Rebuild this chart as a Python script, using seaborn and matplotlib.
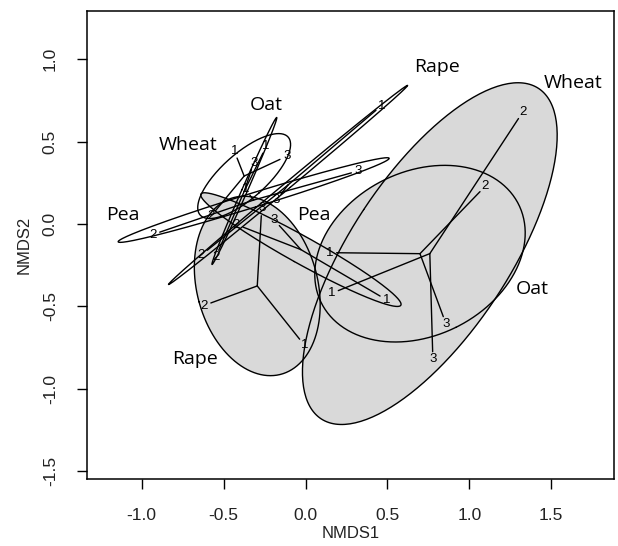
import numpy as np
import pandas as pd
import matplotlib
matplotlib.use("Agg")
import matplotlib.pyplot as plt
import seaborn as sns

# ---------------- data (NMDS site scores) ----------------
replicates = ["1", "2", "3"]
crops = ["Wheat", "Oat", "Pea", "Rape"]

# grey-filled group
wheat_grey_nmds1 = [0.20, 1.30, 0.776]
wheat_grey_nmds2 = [-0.405, 0.64, -0.776]
oat_grey_nmds1 = [0.19, 1.065, 0.841]
oat_grey_nmds2 = [-0.175, 0.196, -0.563]
pea_grey_nmds1 = [0.455, -0.38, -0.16]
pea_grey_nmds2 = [-0.438, -0.02, -0.01]
rape_grey_nmds1 = [-0.036, -0.578, -0.27]
rape_grey_nmds2 = [-0.70, -0.48, 0.05]

# open (unfilled) group
wheat_open_nmds1 = [-0.418, -0.55, -0.156]
wheat_open_nmds2 = [0.40, 0.08, 0.392]
oat_open_nmds1 = [-0.26, -0.53, -0.33]
oat_open_nmds2 = [0.43, -0.16, 0.33]
pea_open_nmds1 = [-0.34, -0.89, 0.28]
pea_open_nmds2 = [0.175, -0.05, 0.31]
rape_open_nmds1 = [0.43, -0.60, -0.15]
rape_open_nmds2 = [0.69, -0.16, 0.18]

# crop name annotations
crop_label_text = ["Rape", "Wheat", "Oat", "Pea", "Oat", "Wheat", "Pea", "Rape"]
crop_label_nmds1 = [0.80, 1.635, 1.381, 0.048, -0.237, -0.716, -1.112, -0.674]
crop_label_nmds2 = [0.955, 0.854, -0.397, 0.054, 0.722, 0.479, 0.054, -0.818]

x_ticks = [-1.0, -0.5, 0.0, 0.5, 1.0, 1.5]
y_ticks = [-1.5, -1.0, -0.5, 0.0, 0.5, 1.0]

# ---------------- build table ----------------
groups = [
    ("Wheat", "grey", wheat_grey_nmds1, wheat_grey_nmds2),
    ("Oat", "grey", oat_grey_nmds1, oat_grey_nmds2),
    ("Pea", "grey", pea_grey_nmds1, pea_grey_nmds2),
    ("Rape", "grey", rape_grey_nmds1, rape_grey_nmds2),
    ("Wheat", "open", wheat_open_nmds1, wheat_open_nmds2),
    ("Oat", "open", oat_open_nmds1, oat_open_nmds2),
    ("Pea", "open", pea_open_nmds1, pea_open_nmds2),
    ("Rape", "open", rape_open_nmds1, rape_open_nmds2),
]
rows = []
for crop, kind, xs, ys in groups:
    for r, x, y in zip(replicates, xs, ys):
        rows.append(dict(crop=crop, kind=kind, rep=r, NMDS1=x, NMDS2=y))
df = pd.DataFrame(rows)

# ---------------- style ----------------
sns.set_theme(style="ticks")
plt.rcParams["font.family"] = ["Liberation Sans", "DejaVu Sans"]

fig = plt.figure(figsize=(6.18, 5.46), dpi=100)
L, R, T, B = 87, 614, 11, 479
ax = fig.add_axes([L / 618, 1 - B / 546, (R - L) / 618, (B - T) / 546])
ax.set_xlim(-1.334, 1.883)
ax.set_ylim(-1.549, 1.293)

GREY = "#d9d9d9"
LW = 1.0


def se_ellipse(x, y, conf=0.95, n=240):
    pts = np.column_stack([x, y])
    c = pts.mean(axis=0)
    cov = np.cov(pts.T) / len(pts)
    scale = np.sqrt(-2 * np.log(1 - conf))
    vals, vecs = np.linalg.eigh(cov)
    t = np.linspace(0, 2 * np.pi, n)
    circ = np.column_stack([np.cos(t), np.sin(t)])
    e = c + scale * circ @ (vecs * np.sqrt(np.clip(vals, 0, None))).T
    return c, e


centres = {}
ells = {}
for (crop, kind), g in df.groupby(["crop", "kind"], sort=False):
    c, e = se_ellipse(g.NMDS1.values, g.NMDS2.values)
    centres[(crop, kind)] = c
    ells[(crop, kind)] = e

# fills first
for (crop, kind), e in ells.items():
    if kind == "grey":
        ax.fill(e[:, 0], e[:, 1], facecolor=GREY, edgecolor="none", zorder=1)
# outlines
for (crop, kind), e in ells.items():
    ax.plot(e[:, 0], e[:, 1], color="black", lw=LW, zorder=2)

# spiders via seaborn
seg_rows = []
for i, row in df.iterrows():
    c = centres[(row.crop, row.kind)]
    seg_rows.append(dict(seg=i, NMDS1=c[0], NMDS2=c[1], o=0))
    seg_rows.append(dict(seg=i, NMDS1=row.NMDS1, NMDS2=row.NMDS2, o=1))
seg = pd.DataFrame(seg_rows)
sns.lineplot(data=seg, x="NMDS1", y="NMDS2", units="seg", estimator=None,
             sort=False, color="black", lw=LW, ax=ax, zorder=3)

# replicate numbers, nudged away from the group centre
for _, row in df.iterrows():
    c = centres[(row.crop, row.kind)]
    d = np.array([row.NMDS1, row.NMDS2]) - c
    d = d / (np.hypot(*d) + 1e-9)
    ax.text(row.NMDS1 + 0.045 * d[0], row.NMDS2 + 0.045 * d[1], row.rep,
            ha="center", va="center", fontsize=9.5, color="black", zorder=4)

for txt, x, y in zip(crop_label_text, crop_label_nmds1, crop_label_nmds2):
    ax.text(x, y, txt, ha="center", va="center", fontsize=14,
            family=["Open Sans", "DejaVu Sans"], color="black", zorder=5)

ax.set_xticks(x_ticks)
ax.set_yticks(y_ticks)
ax.set_xticklabels([f"{v:.1f}" for v in x_ticks])
ax.set_yticklabels([f"{v:.1f}" for v in y_ticks], rotation=90, va="center")
ax.tick_params(axis="both", direction="out", length=7, width=1,
               labelsize=12.5, pad=14, color="black", labelcolor="#222222")
for s in ax.spines.values():
    s.set_visible(True)
    s.set_linewidth(1.1)
    s.set_color("black")
ax.set_xlabel("NMDS1", fontsize=12, labelpad=2, color="#222222")
ax.set_ylabel("NMDS2", fontsize=12, labelpad=8, color="#222222")
ax.set_facecolor("white")
fig.patch.set_facecolor("white")

fig.savefig("out.png", dpi=100)
